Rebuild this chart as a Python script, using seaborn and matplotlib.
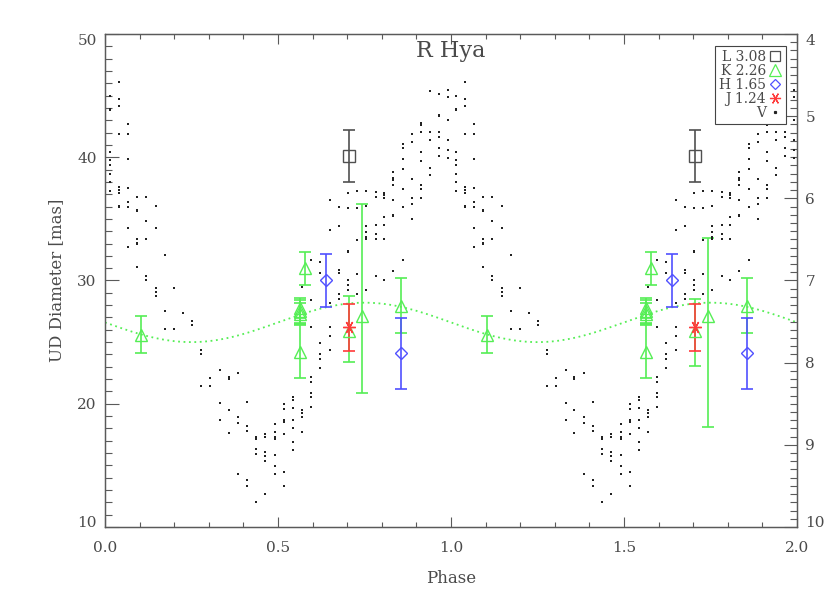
import numpy as np
import pandas as pd
import matplotlib
matplotlib.use("Agg")
import matplotlib.pyplot as plt
import matplotlib.transforms as mtransforms
import seaborn as sns
from matplotlib.ticker import MultipleLocator, FormatStrFormatter
from matplotlib.lines import Line2D

sns.set_style("ticks")
plt.rcParams['font.family'] = ['DejaVu Serif', 'Liberation Serif']

# UD diameters per band (first cycle); second cycle is drawn at phase + 1
k_phase = [0.103, 0.563, 0.563, 0.563, 0.563, 0.578, 0.706, 0.742, 0.856]
k_ud = [25.6, 27.75, 27.5, 27.3, 24.2, 31.0, 25.93, 27.15, 27.97]
k_lo = [1.49, 0.82, 0.92, 0.85, 2.15, 1.33, 2.54, 6.28, 2.26]
k_hi = [1.49, 0.82, 0.92, 0.85, 2.15, 1.33, 2.83, 9.03, 2.26]

h_phase = [0.640, 0.856]
h_ud = [30.0, 24.09]
h_err = [2.13, 2.9]

l_phase = [0.706]
l_ud = [40.1]
l_err = [2.1]

j_phase = [0.706]
j_ud = [26.2]
j_err = [1.9]

# sinusoid fit to the K diameters
fit_mean, fit_amp, fit_peak = 26.6, 1.6, 0.75

# V light curve, grouped by phase column
v_cols = [0.014, 0.040, 0.066, 0.093, 0.119, 0.147, 0.173, 0.199, 0.225, 0.252,
          0.278, 0.304, 0.331, 0.357, 0.384, 0.410, 0.437, 0.463, 0.490, 0.516,
          0.543, 0.569, 0.596, 0.622, 0.649, 0.676, 0.702, 0.728, 0.755, 0.782,
          0.807, 0.833, 0.860, 0.886, 0.913, 0.939, 0.966, 0.992]
v_mags = [
    [4.76, 4.91, 4.93, 5.44, 5.53, 5.59, 5.71, 5.80, 5.91],
    [4.59, 4.79, 4.88, 5.22, 5.86, 5.90, 5.93, 6.09, 6.11],
    [5.09, 5.22, 5.52, 5.87, 6.05, 6.10, 6.36, 6.59],
    [5.98, 6.14, 6.15, 6.49, 6.54, 6.56, 6.83],
    [5.98, 6.27, 6.49, 6.94, 6.99],
    [6.09, 6.36, 7.09, 7.14, 7.19],
    [6.69, 7.37, 7.59],
    [7.09, 7.59],
    [7.39],
    [7.49, 7.54],
    [7.84, 7.89, 8.29],
    [8.19, 8.29],
    [8.09, 8.49, 8.70],
    [8.17, 8.20, 8.58, 8.85],
    [8.13, 8.66, 8.73, 9.35],
    [8.48, 8.77, 8.83, 9.43, 9.50],
    [8.90, 8.93, 9.05, 9.11, 9.69],
    [8.87, 8.90, 9.09, 9.14, 9.20, 9.60],
    [8.75, 8.84, 8.90, 8.93, 9.12, 9.26, 9.36],
    [8.50, 8.56, 8.70, 8.72, 8.87, 9.33, 9.50],
    [8.42, 8.46, 8.55, 8.70, 8.80, 8.97, 9.06],
    [7.08, 8.58, 8.61, 8.66, 8.84],
    [6.75, 7.24, 7.57, 8.17, 8.23, 8.37, 8.42, 8.54],
    [6.78, 6.91, 7.76, 7.89, 7.95, 8.06],
    [6.02, 6.39, 7.28, 7.56, 7.68, 7.84],
    [6.10, 6.34, 6.87, 6.91, 7.16, 7.22],
    [5.94, 6.12, 6.64, 6.65, 6.99, 7.05, 7.12],
    [5.91, 6.12, 6.51, 6.92, 7.17],
    [5.91, 6.09, 6.34, 6.41, 6.47, 6.50, 7.11],
    [5.92, 5.99, 6.32, 6.43, 6.50, 6.95],
    [5.93, 5.96, 6.00, 6.23, 6.32, 6.50, 6.99],
    [5.68, 5.75, 5.78, 5.84, 6.02, 6.20, 6.22, 6.89],
    [5.34, 5.39, 5.52, 5.64, 5.89, 6.11, 6.75],
    [5.22, 5.32, 5.76, 6.00, 6.07, 6.25],
    [5.08, 5.11, 5.19, 5.44, 5.55, 5.84, 5.89, 6.00],
    [4.69, 5.19, 5.29, 5.63, 5.72],
    [4.73, 4.98, 5.00, 5.19, 5.25, 5.39, 5.49],
    [4.68, 4.77, 5.05, 5.29, 5.41, 5.51],
]

ink = '#4a4a4a'
axc = '#5a5a5a'
k_col = '#55ee55'
h_col = '#5050ff'
l_col = '#505050'
j_col = '#ff3a3a'
star = (6, 2, 90)

rows = []
for cyc in (0, 1):
    for p, mags in zip(v_cols, v_mags):
        for m in mags:
            rows.append({'phase': p + cyc, 'mag': m})
df_v = pd.DataFrame(rows)

fig = plt.figure(figsize=(8.3, 5.93), dpi=100)
ax = fig.add_axes([0.1265, 0.1113, 0.8337, 0.8314])
ax2 = ax.twinx()

# fitted curve
fit_phase = np.linspace(0, 2, 500)
fit_ud = fit_mean + fit_amp * np.sin(2 * np.pi * (fit_phase - fit_peak + 0.25))
sns.lineplot(x=fit_phase, y=fit_ud, ax=ax, color='#55ee55', linestyle=(0, (1, 2)),
             linewidth=1.3, zorder=1)

def band(ph, ud, lo, hi, col, mk, ms):
    for cyc in (0, 1):
        x = np.array(ph) + cyc
        # in the second cycle the bars are drawn the other way round
        yerr = [lo, hi] if cyc == 0 else [hi, lo]
        ax.errorbar(x, ud, yerr=yerr, fmt='none', ecolor=col, elinewidth=1.2,
                    capsize=4.5, capthick=1.2, zorder=2)
        ax.plot(x, ud, linestyle='none', marker=mk, ms=ms, mfc='none',
                mec=col, mew=1.0, zorder=3)

band(k_phase, k_ud, k_lo, k_hi, k_col, '^', 9)
band(h_phase, h_ud, h_err, h_err, h_col, 'D', 6.5)
band(l_phase, l_ud, l_err, l_err, l_col, 's', 8)
band(j_phase, j_ud, j_err, j_err, j_col, star, 9)

sns.scatterplot(data=df_v, x='phase', y='mag', ax=ax2, s=1.3, color='#222222',
                marker='s', linewidth=0, legend=False, zorder=4)

ax.set_xlim(0, 2)
ax.set_ylim(10, 50)
ax2.set_ylim(10, 4)

ax.xaxis.set_major_locator(MultipleLocator(0.5))
ax.xaxis.set_minor_locator(MultipleLocator(0.1))
ax.xaxis.set_major_formatter(FormatStrFormatter('%.1f'))
ax.yaxis.set_major_locator(MultipleLocator(10))
ax.yaxis.set_minor_locator(MultipleLocator(1))
ax2.yaxis.set_major_locator(MultipleLocator(1))
ax2.yaxis.set_minor_locator(MultipleLocator(0.1))
ax2.yaxis.set_major_formatter(FormatStrFormatter('%d'))

ax.tick_params(axis='x', which='major', direction='in', top=True, length=7, width=0.8,
               colors=axc, labelcolor=ink, labelsize=11, pad=10)
ax.tick_params(axis='x', which='minor', direction='in', top=True, length=3.6, width=0.8,
               colors=axc)
ax.tick_params(axis='y', which='major', direction='in', right=False, length=10, width=0.8,
               colors=axc, labelcolor=ink, labelsize=11, pad=6)
ax.tick_params(axis='y', which='minor', direction='in', right=False, length=5, width=0.8,
               colors=axc)
ax2.tick_params(axis='y', which='major', direction='in', length=9.5, width=0.8,
                colors=axc, labelcolor=ink, labelsize=11, pad=6)
ax2.tick_params(axis='y', which='minor', direction='in', length=5, width=0.8,
                colors=axc)
for a in (ax, ax2):
    for s in a.spines.values():
        s.set_color(axc)
        s.set_linewidth(0.9)
        s.set_visible(True)

# the end labels of both y axes are pulled inside the frame, as in the original
fig.canvas.draw()
up = mtransforms.ScaledTranslation(0, 4 / 72, fig.dpi_scale_trans)
down = mtransforms.ScaledTranslation(0, -4.3 / 72, fig.dpi_scale_trans)
for a, lo_val, hi_val in ((ax, 10, 50), (ax2, 10, 4)):
    for tick in a.yaxis.get_major_ticks():
        for lab in (tick.label1, tick.label2):
            if abs(tick.get_loc() - lo_val) < 1e-6:
                lab.set_transform(lab.get_transform() + up)
            elif abs(tick.get_loc() - hi_val) < 1e-6:
                lab.set_transform(lab.get_transform() + down)

ax.set_xlabel('Phase', fontsize=12, color=ink, labelpad=11)
ax.set_ylabel('UD Diameter [mas]', fontsize=12, color=ink, labelpad=9)
ax2.set_ylabel('')
ax.text(0.5, 0.966, 'R Hya', transform=ax.transAxes, ha='center', va='center',
        fontsize=16, color=ink)

handles = [
    Line2D([], [], linestyle='none', marker='s', ms=7, mfc='none', mec=l_col, mew=0.9),
    Line2D([], [], linestyle='none', marker='^', ms=8, mfc='none', mec=k_col, mew=0.9),
    Line2D([], [], linestyle='none', marker='D', ms=5.5, mfc='none', mec=h_col, mew=0.9),
    Line2D([], [], linestyle='none', marker=star, ms=8, mec=j_col, mew=0.9),
    Line2D([], [], linestyle='none', marker='s', ms=1.3, mfc='#222222', mec='#222222'),
]
labels = ['L 3.08', 'K 2.26', 'H 1.65', 'J 1.24', 'V']
leg = ax2.legend(handles, labels, loc='upper right', bbox_to_anchor=(0.984, 0.976),
                 markerfirst=False, fontsize=10, labelspacing=0.0, handlelength=0.9,
                 handletextpad=0.25, borderpad=0.3, borderaxespad=0, fancybox=False,
                 framealpha=1, edgecolor='#444444')
leg.get_frame().set_linewidth(0.8)
for t in leg.get_texts():
    t.set_color(ink)
leg._legend_box._children[-1]._children[0].align = 'right'

fig.savefig('out.png', dpi=100)
